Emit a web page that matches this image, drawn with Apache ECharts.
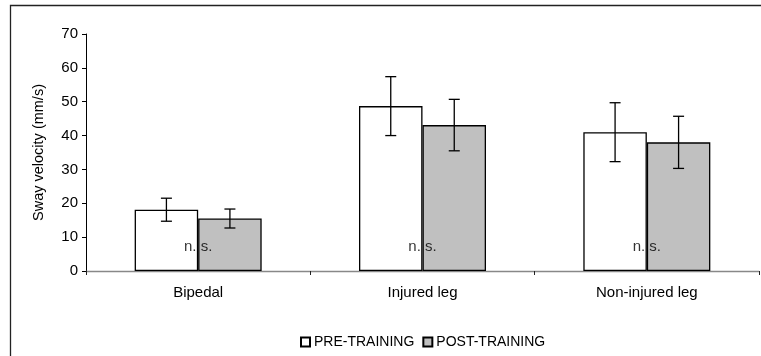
<!DOCTYPE html>
<html>
<head>
<meta charset="utf-8">
<script src="https://cdn.jsdelivr.net/npm/echarts@6/dist/echarts.min.js"></script>
<style>
html,body{margin:0;padding:0;background:#fff;}
#chart{width:761px;height:356px;}
</style>
</head>
<body>
<div id="chart"></div>
<script>
var categories = ['Bipedal', 'Injured leg', 'Non-injured leg'];
var preTraining = [18.1, 48.7, 41.0];
var preError = [3.4, 8.7, 8.7];
var postTraining = [15.5, 43.1, 38.0];
var postError = [2.8, 7.6, 7.7];
var nsLabels = ['n. s.', 'n. s.', 'n. s.'];
var nsLevel = [7, 7, 7];
var yTicks = [0, 10, 20, 30, 40, 50, 60, 70];

var FONT = '"Liberation Sans", Arial, sans-serif';
var BAR_W = 63.5;

function errData(vals, errs) {
  return vals.map(function (v, i) { return [i, v - errs[i], v + errs[i]]; });
}
function errRender(side) {
  return function (params, api) {
    var i = api.value(0);
    var lo = api.coord([i, api.value(1)]);
    var hi = api.coord([i, api.value(2)]);
    var x = lo[0] + side * BAR_W / 2;
    var cap = 5.5;
    var st = { stroke: '#000', lineWidth: 1.3 };
    return {
      type: 'group',
      children: [
        { type: 'line', shape: { x1: x, y1: lo[1], x2: x, y2: hi[1] }, style: st },
        { type: 'line', shape: { x1: x - cap, y1: lo[1], x2: x + cap, y2: lo[1] }, style: st },
        { type: 'line', shape: { x1: x - cap, y1: hi[1], x2: x + cap, y2: hi[1] }, style: st }
      ]
    };
  };
}

var chart = echarts.init(document.getElementById('chart'), null, { renderer: 'canvas' });
chart.setOption({
  animation: false,
  backgroundColor: '#fff',
  textStyle: { fontFamily: FONT },
  graphic: [{
    type: 'rect', shape: { x: 10.5, y: 5.5, width: 760, height: 360 },
    style: { fill: 'none', stroke: '#222', lineWidth: 1.3 }, silent: true, z: -1
  }],
  grid: { left: 86, right: 2, top: 34, bottom: 85, containLabel: false },
  legend: {
    data: ['PRE-TRAINING', 'POST-TRAINING'],
    left: 295, top: 330,
    itemWidth: 9, itemHeight: 9, itemGap: 8,
    icon: 'rect',
    textStyle: { fontFamily: FONT, fontSize: 14, color: '#000', padding: [0, 0, 0, -1] }
  },
  xAxis: {
    type: 'category',
    data: categories,
    boundaryGap: true,
    axisLine: { lineStyle: { color: '#888', width: 1.3 } },
    axisTick: { show: true, length: 4, lineStyle: { color: '#222' } },
    axisLabel: { fontFamily: FONT, fontSize: 15, color: '#000', margin: 14 },
    splitLine: { show: false }
  },
  yAxis: {
    type: 'value',
    min: yTicks[0], max: yTicks[yTicks.length - 1], interval: 10,
    name: 'Sway velocity (mm/s)',
    nameLocation: 'middle',
    nameGap: 40,
    nameTextStyle: { fontFamily: FONT, fontSize: 14.5, color: '#000' },
    axisLine: { show: true, lineStyle: { color: '#000', width: 1 } },
    axisTick: { show: true, length: 4, lineStyle: { color: '#000' } },
    axisLabel: { fontFamily: FONT, fontSize: 15, color: '#000', margin: 8 },
    splitLine: { show: false }
  },
  series: [
    {
      name: 'PRE-TRAINING', type: 'bar', data: preTraining,
      barWidth: BAR_W, barGap: '0%',
      itemStyle: { color: '#fff', borderColor: '#000', borderWidth: 1.3 }
    },
    {
      name: 'POST-TRAINING', type: 'bar', data: postTraining,
      barWidth: BAR_W, barGap: '0%',
      itemStyle: { color: '#c0c0c0', borderColor: '#000', borderWidth: 1.3 }
    },
    {
      type: 'custom', name: 'preErr', renderItem: errRender(-1),
      data: errData(preTraining, preError), z: 5
    },
    {
      type: 'custom', name: 'postErr', renderItem: errRender(1),
      data: errData(postTraining, postError), z: 5
    },
    {
      type: 'scatter', name: 'ns', symbolSize: 0, z: 6,
      data: nsLevel.map(function (v, i) { return { value: [i, v], label: { formatter: nsLabels[i] } }; }),
      label: { show: true, position: 'inside', fontFamily: FONT, fontSize: 15, color: '#000' }
    }
  ]
});
</script>
</body>
</html>
